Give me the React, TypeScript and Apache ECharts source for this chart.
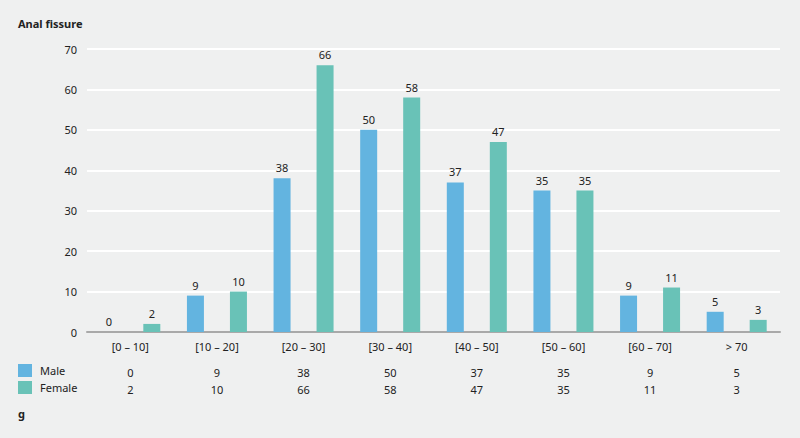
import React, { useEffect, useRef } from "react";
import * as echarts from "echarts";

const categories = ["[0 – 10]", "[10 – 20]", "[20 – 30]", "[30 – 40]", "[40 – 50]", "[50 – 60]", "[60 – 70]", "> 70"];
const maleValues = [0, 9, 38, 50, 37, 35, 9, 5];
const femaleValues = [2, 10, 66, 58, 47, 35, 11, 3];
const seriesNames = ["Male", "Female"];
const title = "Anal fissure";
const panelLetter = "g";

const FONT = "'Noto Sans', sans-serif";
const MALE_COLOR = "#63b4e0";
const FEMALE_COLOR = "#69c2b7";
const TEXT = "#222";

export default function App() {
  const ref = useRef<HTMLDivElement>(null);
  useEffect(() => {
    if (!ref.current) return;
    const chart = echarts.init(ref.current, undefined, { renderer: "svg" });
    const tableAxis = (values: number[], offset: number) => ({
      type: "category",
      data: values.map(String),
      position: "bottom",
      offset,
      axisLine: { show: false },
      axisTick: { show: false },
      splitLine: { show: false },
      axisLabel: { color: TEXT, fontSize: 11, fontFamily: FONT, margin: 8, interval: 0 },
    });
    chart.setOption({
      animation: false,
      backgroundColor: "#eff0f0",
      textStyle: { fontFamily: FONT },
      title: {
        text: title,
        left: 13,
        top: 13,
        textStyle: { fontSize: 11, fontWeight: "bold", color: TEXT, fontFamily: FONT },
      },
      legend: {
        data: seriesNames,
        orient: "vertical",
        left: 18,
        top: 364,
        padding: 0,
        itemWidth: 14,
        itemHeight: 13,
        itemGap: 4,
        icon: "rect",
        textStyle: { fontSize: 11, color: TEXT, fontFamily: FONT, padding: [0, 0, 0, 3] },
      },
      graphic: [
        {
          type: "text",
          left: 18,
          top: 408,
          style: { text: panelLetter, font: `bold 11px ${FONT}`, fill: TEXT },
        },
      ],
      grid: { left: 87, right: 20, top: 49, bottom: 106 },
      xAxis: [
        {
          type: "category",
          data: categories,
          axisLine: { lineStyle: { color: "#a9a9a9", width: 2 } },
          axisTick: { show: false },
          axisLabel: { color: TEXT, fontSize: 11, fontFamily: FONT, margin: 9, interval: 0 },
        },
        tableAxis(maleValues, 27),
        tableAxis(femaleValues, 44),
      ],
      yAxis: {
        type: "value",
        min: 0,
        max: 70,
        interval: 10,
        axisLine: { show: false },
        axisTick: { show: false },
        axisLabel: { color: TEXT, fontSize: 11, fontFamily: FONT, margin: 10 },
        splitLine: { lineStyle: { color: "#ffffff", width: 2 } },
      },
      series: [
        {
          name: seriesNames[0],
          type: "bar",
          data: maleValues,
          barWidth: 17,
          barGap: "153%",
          itemStyle: { color: MALE_COLOR },
          label: { show: true, position: "top", distance: 5, color: TEXT, fontSize: 11, fontFamily: FONT },
        },
        {
          name: seriesNames[1],
          type: "bar",
          data: femaleValues,
          barWidth: 17,
          barGap: "153%",
          itemStyle: { color: FEMALE_COLOR },
          label: { show: true, position: "top", distance: 5, color: TEXT, fontSize: 11, fontFamily: FONT },
        },
      ],
    });
    return () => chart.dispose();
  }, []);
  return <div ref={ref} style={{ width: 800, height: 438, position: "absolute", left: 0, top: 0 }} />;
}
